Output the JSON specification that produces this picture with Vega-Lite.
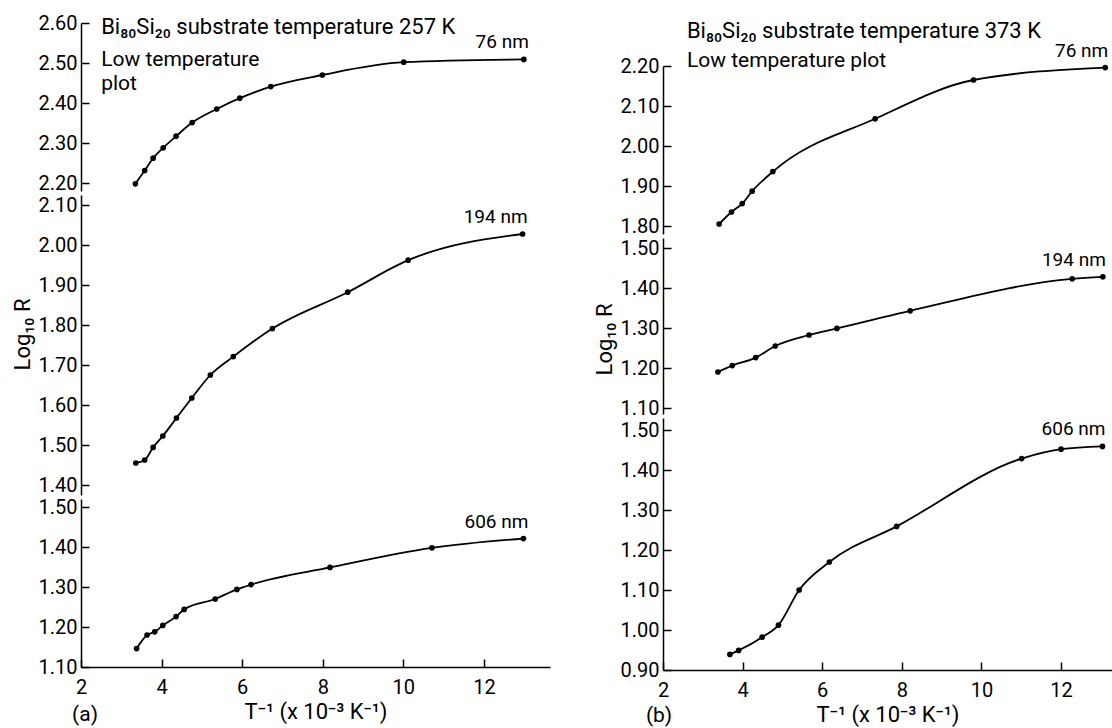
{
  "$schema": "https://vega.github.io/schema/vega-lite/v6.json",
  "padding": {"left": 11, "top": 13, "right": 0, "bottom": 5},
  "spacing": 43,
  "background": "white",
  "datasets": {
    "pts": [
      {"panel": "a", "series": "76 nm", "x": 3.35, "y": 2.198},
      {"panel": "a", "series": "76 nm", "x": 3.58, "y": 2.231},
      {"panel": "a", "series": "76 nm", "x": 3.79, "y": 2.262},
      {"panel": "a", "series": "76 nm", "x": 4.04, "y": 2.288},
      {"panel": "a", "series": "76 nm", "x": 4.36, "y": 2.317},
      {"panel": "a", "series": "76 nm", "x": 4.76, "y": 2.351},
      {"panel": "a", "series": "76 nm", "x": 5.37, "y": 2.385},
      {"panel": "a", "series": "76 nm", "x": 5.94, "y": 2.412},
      {"panel": "a", "series": "76 nm", "x": 6.71, "y": 2.441},
      {"panel": "a", "series": "76 nm", "x": 7.99, "y": 2.47},
      {"panel": "a", "series": "76 nm", "x": 10.01, "y": 2.502},
      {"panel": "a", "series": "76 nm", "x": 12.99, "y": 2.509},
      {"panel": "a", "series": "194 nm", "x": 3.36, "y": 1.455},
      {"panel": "a", "series": "194 nm", "x": 3.58, "y": 1.4625},
      {"panel": "a", "series": "194 nm", "x": 3.79, "y": 1.494},
      {"panel": "a", "series": "194 nm", "x": 4.03, "y": 1.5225},
      {"panel": "a", "series": "194 nm", "x": 4.37, "y": 1.5675},
      {"panel": "a", "series": "194 nm", "x": 4.75, "y": 1.6175},
      {"panel": "a", "series": "194 nm", "x": 5.21, "y": 1.675},
      {"panel": "a", "series": "194 nm", "x": 5.78, "y": 1.721},
      {"panel": "a", "series": "194 nm", "x": 6.75, "y": 1.791},
      {"panel": "a", "series": "194 nm", "x": 8.62, "y": 1.882},
      {"panel": "a", "series": "194 nm", "x": 10.12, "y": 1.962},
      {"panel": "a", "series": "194 nm", "x": 12.96, "y": 2.0275},
      {"panel": "a", "series": "606 nm", "x": 3.38, "y": 1.146},
      {"panel": "a", "series": "606 nm", "x": 3.64, "y": 1.18},
      {"panel": "a", "series": "606 nm", "x": 3.83, "y": 1.188},
      {"panel": "a", "series": "606 nm", "x": 4.03, "y": 1.204},
      {"panel": "a", "series": "606 nm", "x": 4.36, "y": 1.226},
      {"panel": "a", "series": "606 nm", "x": 4.56, "y": 1.244},
      {"panel": "a", "series": "606 nm", "x": 5.33, "y": 1.27},
      {"panel": "a", "series": "606 nm", "x": 5.87, "y": 1.294},
      {"panel": "a", "series": "606 nm", "x": 6.22, "y": 1.306},
      {"panel": "a", "series": "606 nm", "x": 8.18, "y": 1.349},
      {"panel": "a", "series": "606 nm", "x": 10.71, "y": 1.398},
      {"panel": "a", "series": "606 nm", "x": 12.98, "y": 1.421},
      {"panel": "b", "series": "76 nm", "x": 3.41, "y": 1.805},
      {"panel": "b", "series": "76 nm", "x": 3.72, "y": 1.835},
      {"panel": "b", "series": "76 nm", "x": 3.99, "y": 1.856},
      {"panel": "b", "series": "76 nm", "x": 4.24, "y": 1.887},
      {"panel": "b", "series": "76 nm", "x": 4.76, "y": 1.936},
      {"panel": "b", "series": "76 nm", "x": 7.33, "y": 2.068},
      {"panel": "b", "series": "76 nm", "x": 9.8, "y": 2.165},
      {"panel": "b", "series": "76 nm", "x": 13.11, "y": 2.196},
      {"panel": "b", "series": "194 nm", "x": 3.38, "y": 1.19},
      {"panel": "b", "series": "194 nm", "x": 3.74, "y": 1.206},
      {"panel": "b", "series": "194 nm", "x": 4.33, "y": 1.226},
      {"panel": "b", "series": "194 nm", "x": 4.82, "y": 1.255},
      {"panel": "b", "series": "194 nm", "x": 5.67, "y": 1.2825},
      {"panel": "b", "series": "194 nm", "x": 6.37, "y": 1.299},
      {"panel": "b", "series": "194 nm", "x": 8.21, "y": 1.343},
      {"panel": "b", "series": "194 nm", "x": 12.28, "y": 1.423},
      {"panel": "b", "series": "194 nm", "x": 13.05, "y": 1.428},
      {"panel": "b", "series": "606 nm", "x": 3.68, "y": 0.939},
      {"panel": "b", "series": "606 nm", "x": 3.9, "y": 0.949},
      {"panel": "b", "series": "606 nm", "x": 4.49, "y": 0.982},
      {"panel": "b", "series": "606 nm", "x": 4.9, "y": 1.012},
      {"panel": "b", "series": "606 nm", "x": 5.42, "y": 1.1},
      {"panel": "b", "series": "606 nm", "x": 6.18, "y": 1.17},
      {"panel": "b", "series": "606 nm", "x": 7.87, "y": 1.259},
      {"panel": "b", "series": "606 nm", "x": 11.01, "y": 1.4285},
      {"panel": "b", "series": "606 nm", "x": 12.0, "y": 1.452},
      {"panel": "b", "series": "606 nm", "x": 13.04, "y": 1.459}
    ]
  },
  "hconcat": [
    {
      "spacing": 4,
      "bounds": "flush",
      "vconcat": [
        {
          "width": 469, "height": 168,
          "layer": [
            {"data": {"name": "pts"}, "transform": [{"filter": "datum.panel == 'a' && datum.series == '76 nm'"}],
             "mark": {"type": "line", "interpolate": "monotone", "color": "black", "strokeWidth": 1.8},
             "encoding": {
               "x": {"field": "x", "type": "quantitative", "scale": {"domain": [2, 13.64], "nice": false, "zero": false}, "axis": null},
               "y": {"field": "y", "type": "quantitative", "scale": {"domain": [2.18, 2.6], "nice": false, "zero": false}, "axis": {"values": [2.2, 2.3, 2.4, 2.5, 2.6], "format": ".2f", "title": null}}
             }},
            {"data": {"name": "pts"}, "transform": [{"filter": "datum.panel == 'a' && datum.series == '76 nm'"}],
             "mark": {"type": "circle", "size": 32, "color": "black", "opacity": 1},
             "encoding": {"x": {"field": "x", "type": "quantitative"}, "y": {"field": "y", "type": "quantitative"}}},
            {"data": {"name": "pts"}, "transform": [{"filter": "datum.panel == 'a' && datum.series == '76 nm'"}, {"joinaggregate": [{"op": "max", "field": "x", "as": "xmax"}]}, {"filter": "datum.x == datum.xmax"}],
             "mark": {"type": "text", "align": "right", "baseline": "bottom", "dx": 5, "dy": -7},
             "encoding": {"x": {"field": "x", "type": "quantitative"}, "y": {"field": "y", "type": "quantitative"}, "text": {"field": "series"}}},
            {"data": {"values": [{}]}, "mark": {"type": "text", "text": "Bi₈₀Si₂₀ substrate temperature 257 K", "align": "left", "baseline": "middle", "fontSize": 22},
             "encoding": {"x": {"datum": 2.5, "type": "quantitative"}, "y": {"datum": 2.59, "type": "quantitative"}}},
            {"data": {"values": [{}]}, "mark": {"type": "text", "text": "Low temperature", "align": "left", "baseline": "middle", "fontSize": 21},
             "encoding": {"x": {"datum": 2.5, "type": "quantitative"}, "y": {"datum": 2.508, "type": "quantitative"}}},
            {"data": {"values": [{}]}, "mark": {"type": "text", "text": "plot", "align": "left", "baseline": "middle", "fontSize": 21},
             "encoding": {"x": {"datum": 2.5, "type": "quantitative"}, "y": {"datum": 2.447, "type": "quantitative"}}}
          ]
        },
        {
          "width": 469, "height": 300,
          "layer": [
            {"data": {"name": "pts"}, "transform": [{"filter": "datum.panel == 'a' && datum.series == '194 nm'"}],
             "mark": {"type": "line", "interpolate": "monotone", "color": "black", "strokeWidth": 1.8},
             "encoding": {
               "x": {"field": "x", "type": "quantitative", "scale": {"domain": [2, 13.64], "nice": false, "zero": false}, "axis": null},
               "y": {"field": "y", "type": "quantitative", "scale": {"domain": [1.375, 2.125], "nice": false, "zero": false}, "axis": {"values": [1.4, 1.5, 1.6, 1.7, 1.8, 1.9, 2.0, 2.1], "format": ".2f", "title": "Log₁₀ R", "titleY": 139}}
             }},
            {"data": {"name": "pts"}, "transform": [{"filter": "datum.panel == 'a' && datum.series == '194 nm'"}],
             "mark": {"type": "circle", "size": 32, "color": "black", "opacity": 1},
             "encoding": {"x": {"field": "x", "type": "quantitative"}, "y": {"field": "y", "type": "quantitative"}}},
            {"data": {"name": "pts"}, "transform": [{"filter": "datum.panel == 'a' && datum.series == '194 nm'"}, {"joinaggregate": [{"op": "max", "field": "x", "as": "xmax"}]}, {"filter": "datum.x == datum.xmax"}],
             "mark": {"type": "text", "align": "right", "baseline": "bottom", "dx": 5, "dy": -7},
             "encoding": {"x": {"field": "x", "type": "quantitative"}, "y": {"field": "y", "type": "quantitative"}, "text": {"field": "series"}}}
          ]
        },
        {
          "width": 469, "height": 168,
          "layer": [
            {"data": {"name": "pts"}, "transform": [{"filter": "datum.panel == 'a' && datum.series == '606 nm'"}],
             "mark": {"type": "line", "interpolate": "monotone", "color": "black", "strokeWidth": 1.8},
             "encoding": {
               "x": {"field": "x", "type": "quantitative", "scale": {"domain": [2, 13.64], "nice": false, "zero": false}, "axis": {"values": [2, 4, 6, 8, 10, 12], "format": "d", "title": "T⁻¹ (x 10⁻³ K⁻¹)", "labelFlush": false, "labelPadding": 18, "titlePadding": 4}},
               "y": {"field": "y", "type": "quantitative", "scale": {"domain": [1.1, 1.52], "nice": false, "zero": false}, "axis": {"values": [1.1, 1.2, 1.3, 1.4, 1.5], "format": ".2f", "title": null}}
             }},
            {"data": {"name": "pts"}, "transform": [{"filter": "datum.panel == 'a' && datum.series == '606 nm'"}],
             "mark": {"type": "circle", "size": 32, "color": "black", "opacity": 1},
             "encoding": {"x": {"field": "x", "type": "quantitative"}, "y": {"field": "y", "type": "quantitative"}}},
            {"data": {"name": "pts"}, "transform": [{"filter": "datum.panel == 'a' && datum.series == '606 nm'"}, {"joinaggregate": [{"op": "max", "field": "x", "as": "xmax"}]}, {"filter": "datum.x == datum.xmax"}],
             "mark": {"type": "text", "align": "right", "baseline": "bottom", "dx": 5, "dy": -7},
             "encoding": {"x": {"field": "x", "type": "quantitative"}, "y": {"field": "y", "type": "quantitative"}, "text": {"field": "series"}}},
            {"data": {"values": [{}]}, "mark": {"type": "text", "text": "(a)", "align": "center", "baseline": "middle", "fontSize": 21},
             "encoding": {"x": {"datum": 2.1, "type": "quantitative"}, "y": {"datum": 0.98, "type": "quantitative"}}}
          ]
        }
      ]
    },
    {
      "spacing": 4,
      "bounds": "flush",
      "vconcat": [
        {
          "width": 449, "height": 39,
          "data": {"values": [{}]},
          "mark": {"type": "text", "text": "Bi₈₀Si₂₀ substrate temperature 373 K", "align": "left", "baseline": "middle", "fontSize": 22},
          "encoding": {
            "x": {"datum": 2.6, "type": "quantitative", "scale": {"domain": [2, 13.28], "nice": false, "zero": false}, "axis": null},
            "y": {"datum": 0.8, "type": "quantitative", "scale": {"domain": [0, 1], "nice": false}, "axis": null}
          }
        },
        {
          "width": 449, "height": 168,
          "layer": [
            {"data": {"name": "pts"}, "transform": [{"filter": "datum.panel == 'b' && datum.series == '76 nm'"}],
             "mark": {"type": "line", "interpolate": "monotone", "color": "black", "strokeWidth": 1.8},
             "encoding": {
               "x": {"field": "x", "type": "quantitative", "scale": {"domain": [2, 13.28], "nice": false, "zero": false}, "axis": null},
               "y": {"field": "y", "type": "quantitative", "scale": {"domain": [1.78, 2.2], "nice": false, "zero": false}, "axis": {"values": [1.8, 1.9, 2.0, 2.1, 2.2], "format": ".2f", "title": null}}
             }},
            {"data": {"name": "pts"}, "transform": [{"filter": "datum.panel == 'b' && datum.series == '76 nm'"}],
             "mark": {"type": "circle", "size": 32, "color": "black", "opacity": 1},
             "encoding": {"x": {"field": "x", "type": "quantitative"}, "y": {"field": "y", "type": "quantitative"}}},
            {"data": {"name": "pts"}, "transform": [{"filter": "datum.panel == 'b' && datum.series == '76 nm'"}, {"joinaggregate": [{"op": "max", "field": "x", "as": "xmax"}]}, {"filter": "datum.x == datum.xmax"}],
             "mark": {"type": "text", "align": "right", "baseline": "bottom", "dx": 3, "dy": -7},
             "encoding": {"x": {"field": "x", "type": "quantitative"}, "y": {"field": "y", "type": "quantitative"}, "text": {"field": "series"}}},
            {"data": {"values": [{}]}, "mark": {"type": "text", "text": "Low temperature plot", "align": "left", "baseline": "middle", "fontSize": 21},
             "encoding": {"x": {"datum": 2.6, "type": "quantitative"}, "y": {"datum": 2.2125, "type": "quantitative"}}}
          ]
        },
        {
          "width": 449, "height": 176,
          "layer": [
            {"data": {"name": "pts"}, "transform": [{"filter": "datum.panel == 'b' && datum.series == '194 nm'"}],
             "mark": {"type": "line", "interpolate": "monotone", "color": "black", "strokeWidth": 1.8},
             "encoding": {
               "x": {"field": "x", "type": "quantitative", "scale": {"domain": [2, 13.28], "nice": false, "zero": false}, "axis": null},
               "y": {"field": "y", "type": "quantitative", "scale": {"domain": [1.085, 1.525], "nice": false, "zero": false}, "axis": {"values": [1.1, 1.2, 1.3, 1.4, 1.5], "format": ".2f", "title": "Log₁₀ R", "titleY": 101}}
             }},
            {"data": {"name": "pts"}, "transform": [{"filter": "datum.panel == 'b' && datum.series == '194 nm'"}],
             "mark": {"type": "circle", "size": 32, "color": "black", "opacity": 1},
             "encoding": {"x": {"field": "x", "type": "quantitative"}, "y": {"field": "y", "type": "quantitative"}}},
            {"data": {"name": "pts"}, "transform": [{"filter": "datum.panel == 'b' && datum.series == '194 nm'"}, {"joinaggregate": [{"op": "max", "field": "x", "as": "xmax"}]}, {"filter": "datum.x == datum.xmax"}],
             "mark": {"type": "text", "align": "right", "baseline": "bottom", "dx": 3, "dy": -7},
             "encoding": {"x": {"field": "x", "type": "quantitative"}, "y": {"field": "y", "type": "quantitative"}, "text": {"field": "series"}}}
          ]
        },
        {
          "width": 449, "height": 252,
          "layer": [
            {"data": {"name": "pts"}, "transform": [{"filter": "datum.panel == 'b' && datum.series == '606 nm'"}],
             "mark": {"type": "line", "interpolate": "monotone", "color": "black", "strokeWidth": 1.8},
             "encoding": {
               "x": {"field": "x", "type": "quantitative", "scale": {"domain": [2, 13.28], "nice": false, "zero": false}, "axis": {"values": [2, 4, 6, 8, 10, 12], "format": "d", "title": "T⁻¹ (x 10⁻³ K⁻¹)", "labelFlush": false, "labelPadding": 18, "titlePadding": 4}},
               "y": {"field": "y", "type": "quantitative", "scale": {"domain": [0.9, 1.53], "nice": false, "zero": false}, "axis": {"values": [0.9, 1.0, 1.1, 1.2, 1.3, 1.4, 1.5], "format": ".2f", "title": null}}
             }},
            {"data": {"name": "pts"}, "transform": [{"filter": "datum.panel == 'b' && datum.series == '606 nm'"}],
             "mark": {"type": "circle", "size": 32, "color": "black", "opacity": 1},
             "encoding": {"x": {"field": "x", "type": "quantitative"}, "y": {"field": "y", "type": "quantitative"}}},
            {"data": {"name": "pts"}, "transform": [{"filter": "datum.panel == 'b' && datum.series == '606 nm'"}, {"joinaggregate": [{"op": "max", "field": "x", "as": "xmax"}]}, {"filter": "datum.x == datum.xmax"}],
             "mark": {"type": "text", "align": "right", "baseline": "bottom", "dx": 3, "dy": -7},
             "encoding": {"x": {"field": "x", "type": "quantitative"}, "y": {"field": "y", "type": "quantitative"}, "text": {"field": "series"}}},
            {"data": {"values": [{}]}, "mark": {"type": "text", "text": "(b)", "align": "center", "baseline": "middle", "fontSize": 21},
             "encoding": {"x": {"datum": 1.9, "type": "quantitative"}, "y": {"datum": 0.785, "type": "quantitative"}}}
          ]
        }
      ]
    }
  ],
  "config": {
    "font": "Roboto",
    "view": {"stroke": null},
    "axis": {
      "grid": false,
      "domainColor": "black", "domainWidth": 1.5,
      "tickColor": "black", "tickWidth": 1.5, "tickSize": -8,
      "labelPadding": 12,
      "labelFont": "Roboto", "labelFontSize": 20, "labelColor": "black",
      "titleFont": "Roboto", "titleFontSize": 22, "titleColor": "black", "titleFontWeight": "normal",
      "titlePadding": 4
    },
    "text": {"font": "Roboto", "fontSize": 19, "color": "black"}
  }
}
